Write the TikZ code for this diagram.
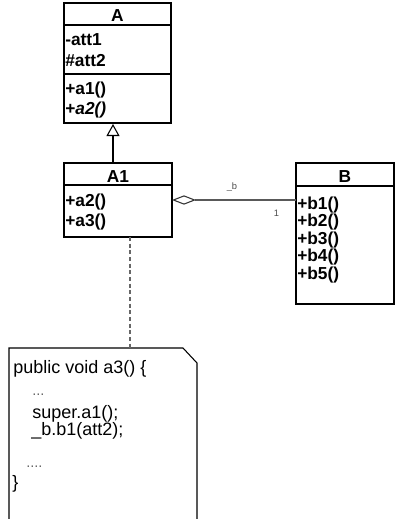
\documentclass[tikz,border=0pt]{standalone}
\usepackage{fontspec}
\setmainfont{Liberation Sans}
\usetikzlibrary{arrows.meta,calc}
\tikzset{
  classbox/.style={draw, line width=0.8pt, inner sep=0pt, outer sep=0pt},
  member/.style={anchor=base west, inner sep=0pt, font=\fontsize{13}{15}\selectfont\bfseries},
  classname/.style={anchor=base, inner sep=0pt, font=\fontsize{13}{15}\selectfont\bfseries},
  code/.style={anchor=base west, inner sep=0pt, font=\fontsize{13.5}{16}\selectfont},
  dots/.style={anchor=base west, inner sep=0pt, font=\fontsize{11}{13}\selectfont, text=black!60},
  role/.style={inner sep=0pt, font=\fontsize{7}{8}\selectfont, text=black!70}
}
\begin{document}
\begin{tikzpicture}[x=0.75pt,y=-0.75pt]
\useasboundingbox (0,0) rectangle (395,519);

% class A
\node[classbox, minimum width=80.25pt, minimum height=90pt] (A) at (117.5,63) {};
\draw[line width=0.8pt] (A.west |- 0,25) -- (A.east |- 0,25);
\draw[line width=0.8pt] (A.west |- 0,74) -- (A.east |- 0,74);
\node[classname] (Aname) at (117.5,21) {A};
\node[member] (att1) at (65,45.5) {-att1};
\node[member] (att2) at (65,66) {\#att2};
\node[member] (a1) at (65,94) {+a1()};
\node[member] (a2) at (65,114) {+\textit{a2()}};

% class A1
\node[classbox, minimum width=81pt, minimum height=55.5pt] (A1) at (118,200) {};
\draw[line width=0.8pt] (A1.west |- 0,185) -- (A1.east |- 0,185);
\node[classname] (A1name) at (118,182.5) {A1};
\node[member] (A1a2) at (65,206) {+a2()};
\node[member] (A1a3) at (65,226) {+a3()};

% class B
\node[classbox, minimum width=73.5pt, minimum height=105.75pt] (B) at (345,233.5) {};
\draw[line width=0.8pt] (B.west |- 0,186) -- (B.east |- 0,186);
\node[classname] (Bname) at (345,182.5) {B};
\foreach \i/\yy in {1/209,2/226.5,3/244,4/261.5,5/279}
  \node[member] (b\i) at (297,\yy) {+b\i()};

% generalization and aggregation
\draw[line width=0.8pt, -{Triangle[open,length=9pt,width=9.75pt]}] ($(A1.north)+(-5,0)$) -- ($(A.south)+(-4.5,1)$);
\draw[line width=0.8pt, black!65, {Diamond[open,length=18pt,width=7pt,black!80]}-] (A1.east) -- (A1.east -| B.west);
\node[role] (rolename) at (232,187) {\_b};
\node[role] (mult) at (276.5,213.5) {1};

% note
\node[minimum width=141pt, minimum height=128.25pt, inner sep=0pt, outer sep=0pt] (note) at (103,433.5) {};
\draw[line width=0.8pt] (note.south west) -- (note.north west) -- ($(note.north east)+(-14,0)$)
  -- ($(note.north east)+(0,15)$) -- (note.south east);
\coordinate (dtop) at ($(A1.south)+(12,0)$);
\draw[black!60, line width=0.8pt, dash pattern=on 3pt off 2pt] (dtop) -- (dtop |- note.north);

\node[code] (c1) at (13,373) {public void a3() \{};
\node[dots] (c2) at (32,395) {...};
\node[code] (c3) at (32,418) {super.a1();};
\node[code] (c4) at (31,435) {\_b.b1(att2);};
\node[dots] (c5) at (26,467) {....};
\node[code] (c6) at (12,488) {\}};
\end{tikzpicture}
\end{document}
